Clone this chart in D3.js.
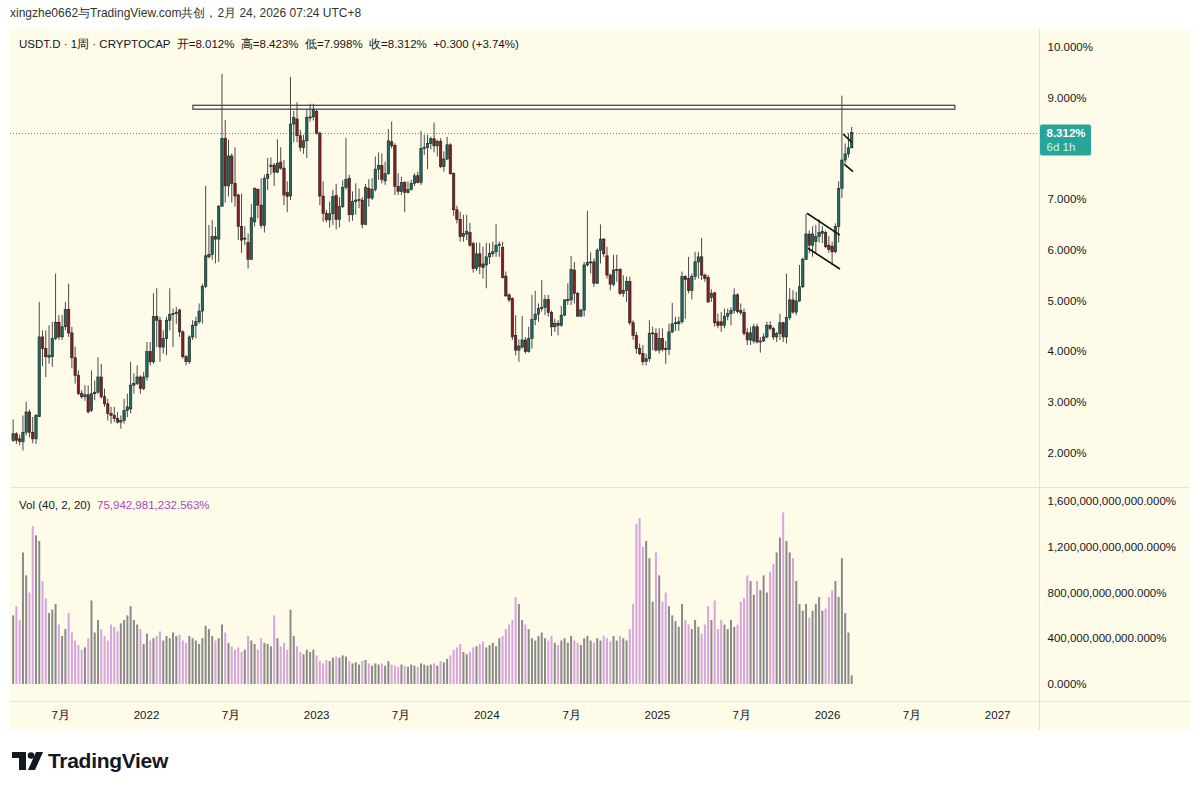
<!DOCTYPE html>
<html>
<head>
<meta charset="utf-8">
<script src="https://cdn.jsdelivr.net/npm/d3@7"></script>
<style>
  body { margin: 0; background: #fff; }
  text { font-family: "Liberation Sans", Arial, sans-serif; }
</style>
</head>
<body>
<svg id="chart" width="1200" height="791"></svg>
<script>
// weekly USDT.D candles, first bar week of 2021-03-22
const firstWeek = "2021-03-22";

const opens = [2.24,2.37,2.27,2.21,2.40,2.80,2.40,2.27,2.71,4.28,4.05,3.88,3.89,4.25,4.57,4.28,4.48,4.82,4.36,3.87,
  3.52,3.17,3.10,3.14,2.83,3.16,3.19,3.49,3.10,2.96,2.77,2.73,2.67,2.60,2.63,2.83,2.86,3.33,3.36,3.49,
  3.26,3.49,3.99,3.79,4.68,4.61,4.08,4.25,4.61,4.72,4.74,4.81,4.38,3.89,3.79,4.28,4.51,4.58,4.79,5.28,
  5.86,5.91,6.26,6.21,6.86,8.20,7.26,7.85,7.31,7.08,6.46,6.21,6.14,5.81,6.55,7.19,6.88,6.48,7.41,7.64,
  7.67,7.53,7.73,7.61,7.13,7.06,8.48,8.58,8.25,8.02,8.15,8.60,8.62,8.73,8.30,7.06,6.72,6.59,6.71,7.07,
  6.60,6.85,7.23,7.41,6.69,6.95,6.98,6.98,6.50,7.21,7.02,7.19,7.59,7.66,7.36,7.50,8.13,8.06,7.25,7.15,
  7.33,7.13,7.19,7.31,7.46,7.33,8.00,8.02,8.10,8.19,8.05,8.14,7.64,7.79,8.07,7.51,6.79,6.60,6.26,6.31,
  6.34,6.12,5.63,5.92,5.72,5.70,5.86,5.92,5.96,6.09,6.05,5.48,5.11,5.04,4.31,4.02,4.08,4.22,3.99,4.25,
  4.62,4.73,4.84,4.86,5.02,4.76,4.48,4.55,4.51,4.71,5.01,5.01,5.60,5.14,4.69,4.81,5.70,5.75,5.76,5.34,
  5.99,6.21,5.88,5.50,5.32,5.60,5.61,5.14,5.20,5.37,4.56,4.31,4.05,3.95,3.80,3.85,4.35,4.35,4.02,4.25,
  4.05,4.03,4.38,4.54,4.54,4.58,5.47,5.43,5.20,5.47,5.76,5.86,5.50,5.45,5.06,5.15,4.58,4.58,4.51,4.69,
  4.74,4.80,5.11,4.80,4.76,4.36,4.22,4.20,4.48,4.18,4.20,4.28,4.51,4.45,4.28,4.35,4.56,4.28,4.66,5.01,
  4.77,4.99,5.27,5.81,6.31,6.09,6.16,6.26,6.32,6.34,6.09,6.07,5.96,6.46,7.21,7.77,7.89,8.012];

const highs = [2.65,2.40,2.35,2.73,3.00,2.85,2.70,2.76,4.97,4.41,4.41,4.51,4.58,5.53,4.71,4.71,4.97,5.33,4.48,4.09,
  3.62,3.23,3.33,3.32,3.62,3.42,3.88,3.75,3.26,3.06,2.90,2.90,2.80,2.73,3.06,3.16,3.79,3.56,3.72,3.52,
  3.59,4.18,4.18,5.14,5.24,4.68,4.41,4.68,5.24,4.84,4.87,4.84,4.41,3.92,4.31,4.61,4.68,4.94,5.33,7.26,
  6.49,6.59,6.45,6.88,9.47,8.56,8.17,7.90,8.02,7.11,7.11,6.46,6.32,6.90,7.23,7.21,7.41,7.48,7.81,7.82,
  7.71,8.18,8.02,7.77,7.35,9.41,8.74,8.91,8.37,8.27,8.77,8.88,8.88,8.77,8.33,7.35,6.79,6.95,7.18,7.30,
  7.04,7.37,8.21,7.48,7.15,7.31,7.21,7.04,7.30,7.39,7.41,7.84,7.92,7.90,7.74,8.38,8.53,8.10,7.51,7.44,
  7.35,7.35,7.38,7.51,7.54,8.35,8.27,8.27,8.23,8.51,8.17,8.20,7.94,8.23,8.10,7.52,6.87,6.75,6.69,6.69,
  6.53,6.16,6.14,6.14,6.06,6.14,6.13,6.16,6.51,6.16,6.16,5.57,5.14,5.06,4.71,4.23,4.69,4.28,4.48,5.11,
  5.19,4.94,5.40,5.11,5.11,4.80,4.64,4.61,4.89,5.02,5.34,5.88,5.76,5.17,4.84,5.76,6.77,5.95,5.83,6.03,
  6.50,6.23,6.06,5.53,5.90,5.90,5.64,5.50,5.47,5.47,4.61,4.38,4.15,4.12,3.95,4.61,4.48,4.45,4.45,4.45,
  4.20,4.54,4.95,4.68,4.68,5.57,5.50,5.86,5.53,5.96,5.96,6.23,5.53,5.50,5.22,5.17,4.74,4.77,4.84,4.84,
  4.87,5.24,5.14,4.94,4.84,4.45,4.48,4.54,4.54,4.28,4.35,4.58,4.59,4.48,4.38,4.74,4.58,5.53,5.24,5.20,
  5.17,5.70,5.85,6.71,6.38,6.46,6.49,6.60,6.47,6.38,6.27,6.16,6.52,7.35,9.04,8.10,8.30,8.423];

const lows = [2.21,2.17,2.14,2.04,2.34,2.30,2.18,2.17,2.70,3.70,3.49,3.75,3.69,4.22,4.22,4.22,4.41,4.28,3.66,3.36,
  3.13,3.06,3.02,2.77,2.80,3.03,3.16,3.06,2.90,2.63,2.57,2.60,2.57,2.47,2.57,2.70,2.77,3.16,3.33,3.16,
  3.23,3.42,3.72,3.75,4.08,3.79,3.95,3.92,4.41,4.08,4.54,4.28,3.85,3.72,3.75,4.22,4.25,4.54,4.54,5.24,
  5.83,5.80,5.73,5.76,6.85,6.93,7.05,6.93,6.85,6.19,5.94,6.09,5.63,5.80,6.46,6.62,6.42,6.34,7.18,7.48,
  7.26,7.51,7.58,6.88,6.74,6.98,8.12,8.12,7.94,7.89,7.81,8.53,8.55,8.27,6.88,6.55,6.54,6.44,6.49,6.40,
  6.44,6.82,7.19,6.55,6.57,6.69,6.82,6.42,6.49,6.85,6.98,7.15,7.38,7.31,7.28,7.48,8.00,7.08,7.08,7.08,
  6.74,7.11,7.17,7.26,7.31,7.28,7.87,7.59,7.98,7.92,7.84,7.61,7.54,7.77,7.48,6.67,6.52,6.16,6.16,6.19,
  6.06,5.55,5.58,5.52,5.43,5.24,5.72,5.86,5.86,5.86,5.43,5.07,4.97,4.22,3.92,3.79,4.05,3.95,3.97,4.05,
  4.51,4.58,4.78,4.71,4.68,4.30,4.38,4.31,4.48,4.69,4.91,4.91,4.94,4.68,4.68,4.68,5.67,5.53,5.27,5.32,
  5.73,5.86,5.43,5.20,5.28,5.37,5.11,5.07,4.97,4.51,4.22,3.95,3.92,3.72,3.72,3.79,4.02,3.99,3.95,3.99,
  3.75,3.92,4.35,4.40,4.40,4.54,4.64,5.14,5.02,5.40,5.43,5.40,5.37,4.95,4.97,4.48,4.45,4.38,4.45,4.61,
  4.51,4.74,4.74,4.71,4.31,4.12,4.12,4.15,4.15,3.97,4.18,4.25,4.41,4.22,4.18,4.22,4.18,4.15,4.61,4.74,
  4.71,4.97,5.24,5.80,5.93,5.86,5.93,6.14,6.13,6.03,5.94,5.70,5.93,6.14,7.02,7.70,7.82,7.998];

const closes = [2.37,2.24,2.22,2.40,2.80,2.40,2.27,2.73,4.28,4.05,3.89,3.92,4.25,4.57,4.28,4.48,4.82,4.36,3.87,3.52,
  3.16,3.10,3.14,2.80,3.16,3.19,3.49,3.10,2.96,2.77,2.73,2.67,2.60,2.63,2.83,2.90,3.33,3.36,3.49,3.26,
  3.49,3.99,3.79,4.68,4.61,4.08,4.25,4.61,4.72,4.74,4.77,4.38,3.89,3.79,4.28,4.51,4.58,4.79,5.28,5.88,
  5.91,6.26,6.21,6.86,8.20,7.26,7.85,7.31,7.06,6.46,6.19,6.23,5.81,6.63,7.21,6.88,6.48,7.41,7.49,7.67,
  7.53,7.71,7.61,7.08,7.05,8.48,8.61,8.25,8.02,8.15,8.61,8.62,8.76,8.30,7.06,6.72,6.59,6.71,7.05,6.60,
  6.85,7.23,7.39,6.69,6.95,6.98,6.99,6.50,7.23,7.02,7.19,7.59,7.66,7.39,7.50,8.15,8.05,7.25,7.15,7.33,
  7.13,7.19,7.31,7.46,7.33,8.00,8.02,8.10,8.19,8.05,8.14,7.64,7.79,8.07,7.50,6.79,6.60,6.26,6.32,6.36,
  6.09,5.63,5.92,5.67,5.65,5.86,5.93,5.96,6.09,6.11,5.45,5.09,5.01,4.28,4.02,4.10,4.22,3.99,4.25,4.62,
  4.73,4.84,4.86,5.02,4.76,4.48,4.55,4.51,4.71,5.01,5.02,5.61,5.14,4.69,4.81,5.70,5.75,5.76,5.34,5.99,
  6.21,5.92,5.50,5.32,5.60,5.61,5.14,5.20,5.37,4.56,4.31,4.05,3.95,3.79,3.85,4.35,4.36,4.02,4.25,4.03,
  4.03,4.38,4.54,4.56,4.58,5.47,5.41,5.20,5.47,5.76,5.86,5.50,5.43,4.97,5.14,4.56,4.51,4.51,4.69,4.74,
  4.80,5.11,4.78,4.76,4.35,4.22,4.36,4.48,4.18,4.20,4.28,4.51,4.45,4.28,4.35,4.56,4.28,4.66,5.01,4.77,
  4.99,5.27,5.81,6.31,6.09,6.31,6.26,6.34,6.36,6.06,6.01,5.96,6.46,7.21,7.77,7.89,8.01,8.312];

// volume in billions
const volumes = [600,680,560,1150,950,800,1380,1300,1250,900,750,620,650,700,520,420,480,620,450,380,
  340,300,320,400,730,450,560,480,420,380,520,500,460,530,560,600,680,560,520,480,
  350,440,380,400,420,460,380,420,400,450,420,430,380,360,420,400,380,350,400,510,
  480,420,380,400,520,450,360,330,300,320,280,300,420,380,350,300,400,360,350,330,
  600,400,330,360,300,650,420,330,280,260,300,280,300,250,200,180,210,200,230,240,
  230,250,240,200,180,190,170,200,210,180,160,180,170,180,160,200,170,160,150,170,
  160,150,170,160,150,180,170,160,170,180,160,200,190,220,250,300,320,350,280,260,
  280,320,330,350,370,320,340,360,330,400,420,480,520,560,760,700,560,520,480,400,
  380,420,450,400,380,420,360,340,380,400,360,420,380,360,340,400,420,380,360,400,
  380,420,400,370,420,380,420,400,380,480,700,1400,1450,1200,1250,1100,720,1150,950,720,
  800,680,600,550,500,700,560,520,480,560,500,440,520,680,560,730,480,560,520,480,
  560,500,520,720,750,950,900,780,900,820,950,800,980,1050,1150,1280,1500,1250,1150,1100,
  900,700,640,700,580,640,700,760,640,660,760,820,900,760,1100,620,450,75.942981232563];

const priceTicks = [2, 3, 4, 5, 6, 7, 9, 10];
const volTicks = [0, 400, 800, 1200, 1600];
const timeTicks = ["2021-07-01","2022-01-01","2022-07-01","2023-01-01","2023-07-01","2024-01-01",
  "2024-07-01","2025-01-01","2025-07-01","2026-01-01","2026-07-01","2027-01-01"];
const timeLabels = ["7月","2022","7月","2023","7月","2024","7月","2025","7月","2026","7月","2027"];

// drawings: [week index, price]
const resistance = { from: 55.1, to: 288.6, top: 8.85, bottom: 8.77 };
const flagLines = [
  [[243.3, 6.72], [253.4, 6.29]],
  [[243.6, 6.03], [253.4, 5.62]],
  [[254.4, 8.28], [257.0, 8.12]],
  [[254.7, 7.69], [257.4, 7.54]]
];

const parseDay = d3.timeParse("%Y-%m-%d");
const start = parseDay(firstWeek);
const bars = closes.map((c, i) => ({
  date: d3.timeWeek.offset(start, i),
  o: opens[i], h: highs[i], l: lows[i], c: c, v: volumes[i]
}));
const weekDate = (w) => new Date(start.getTime() + w * 7 * 864e5);

const svg = d3.select("#chart");

const plot = { left: 10, right: 1039.5, top: 29, bottom: 730, paneSplit: 487.5, axisTop: 701.5, axisRight: 1190 };
const bg = "#fefbe8";
const textCol = "#131722";

svg.append("rect").attr("width", 1200).attr("height", 791).attr("fill", "#fff");
svg.append("rect")
  .attr("x", plot.left).attr("y", plot.top)
  .attr("width", plot.axisRight - plot.left).attr("height", plot.bottom - plot.top)
  .attr("fill", bg);

const x = d3.scaleTime()
  .domain([new Date(2022, 0, 1), new Date(2026, 0, 1)])
  .range([146, 827]);
const y = d3.scaleLinear().domain([2, 10]).range([452.5, 47]);
const yv = d3.scaleLinear().domain([0, 1600]).range([684, 501]);

// separators
const sepCol = "#e6e3d3";
svg.append("line").attr("x1", plot.right).attr("x2", plot.right)
  .attr("y1", plot.top).attr("y2", plot.bottom).attr("stroke", sepCol);
svg.append("line").attr("x1", plot.left).attr("x2", plot.axisRight)
  .attr("y1", plot.paneSplit).attr("y2", plot.paneSplit).attr("stroke", sepCol);
svg.append("line").attr("x1", plot.left).attr("x2", plot.axisRight)
  .attr("y1", plot.axisTop).attr("y2", plot.axisTop).attr("stroke", sepCol);

// price axis
const priceAxis = svg.append("g")
  .attr("transform", `translate(${plot.right},0)`)
  .call(d3.axisRight(y).tickValues(priceTicks).tickSize(0).tickPadding(8)
    .tickFormat((d) => d3.format(".3f")(d) + "%"));
priceAxis.select(".domain").remove();
priceAxis.selectAll("text").attr("fill", textCol).style("font-size", "11.5px");

// volume axis
const volAxis = svg.append("g")
  .attr("transform", `translate(${plot.right},0)`)
  .call(d3.axisRight(yv).tickValues(volTicks).tickSize(0).tickPadding(8)
    .tickFormat((d) => d3.format(",.3f")(d * 1e9) + "%"));
volAxis.select(".domain").remove();
volAxis.selectAll("text").attr("fill", textCol).style("font-size", "11.5px");

// time axis
const timeAxis = svg.append("g")
  .attr("transform", `translate(0,${plot.axisTop})`)
  .call(d3.axisBottom(x).tickValues(timeTicks.map(parseDay)).tickSize(0).tickPadding(9)
    .tickFormat((d, i) => timeLabels[i]));
timeAxis.select(".domain").remove();
timeAxis.selectAll("text").attr("fill", textCol).style("font-size", "11.5px");

// clip to the plot area
svg.append("clipPath").attr("id", "plotClip")
  .append("rect").attr("x", plot.left).attr("y", plot.top)
  .attr("width", plot.right - plot.left).attr("height", plot.axisTop - plot.top);
const g = svg.append("g").attr("clip-path", "url(#plotClip)");

// volume bars
const upVol = "#8a8a8a";
const downVol = "#d7a4e0";
g.append("g").selectAll("rect")
  .data(bars)
  .join("rect")
  .attr("x", (d) => x(d.date) - 1)
  .attr("width", 2)
  .attr("y", (d) => yv(d.v))
  .attr("height", (d) => yv(0) - yv(d.v))
  .attr("fill", (d) => (d.c >= d.o ? upVol : downVol));

// last price line
const last = bars[bars.length - 1];
g.append("line")
  .attr("x1", plot.left).attr("x2", plot.right)
  .attr("y1", Math.round(y(last.c)) + 0.5).attr("y2", Math.round(y(last.c)) + 0.5)
  .attr("stroke", "#26a69a").attr("stroke-dasharray", "1,2");

// resistance box
g.append("rect")
  .attr("x", x(weekDate(resistance.from)))
  .attr("y", y(resistance.top))
  .attr("width", x(weekDate(resistance.to)) - x(weekDate(resistance.from)))
  .attr("height", y(resistance.bottom) - y(resistance.top))
  .attr("fill", "#fff").attr("stroke", "#3a3a3a").attr("stroke-width", 1.2);
g.append("line")
  .attr("x1", x(weekDate(resistance.from))).attr("x2", x(weekDate(resistance.to)))
  .attr("y1", y(resistance.bottom) - 0.5).attr("y2", y(resistance.bottom) - 0.5)
  .attr("stroke", "#999").attr("stroke-width", 1);

// candles
const upCol = "#1d6b64";
const downCol = "#861f1f";
const candle = g.append("g").selectAll("g")
  .data(bars)
  .join("g");
candle.append("line")
  .attr("x1", (d) => x(d.date)).attr("x2", (d) => x(d.date))
  .attr("y1", (d) => y(d.h)).attr("y2", (d) => y(d.l))
  .attr("stroke", "#4a4a4a").attr("stroke-width", 1);
candle.append("rect")
  .attr("x", (d) => x(d.date) - 1.2)
  .attr("width", 2.4)
  .attr("y", (d) => y(Math.max(d.o, d.c)))
  .attr("height", (d) => Math.max(1, Math.abs(y(d.o) - y(d.c))))
  .attr("fill", (d) => (d.c >= d.o ? upCol : downCol))
  .attr("stroke", "#1e1e1e").attr("stroke-width", 0.6);

// flag lines
g.append("g").selectAll("line")
  .data(flagLines)
  .join("line")
  .attr("x1", (d) => x(weekDate(d[0][0]))).attr("y1", (d) => y(d[0][1]))
  .attr("x2", (d) => x(weekDate(d[1][0]))).attr("y2", (d) => y(d[1][1]))
  .attr("stroke", "#111").attr("stroke-width", 1.6);

// last price label
const ly = y(last.c);
svg.append("rect")
  .attr("x", plot.right + 0.5).attr("y", ly - 8)
  .attr("width", 51).attr("height", 31).attr("rx", 2)
  .attr("fill", "#26a69a");
svg.append("text").attr("x", plot.right + 7).attr("y", ly + 4)
  .attr("fill", "#fff").style("font-size", "11.5px").style("font-weight", "bold")
  .text(d3.format(".3f")(last.c) + "%");
svg.append("text").attr("x", plot.right + 7).attr("y", ly + 18)
  .attr("fill", "#d8f2ee").style("font-size", "11.5px")
  .text("6d 1h");

// header and legends
svg.append("text").attr("x", 10).attr("y", 17)
  .attr("fill", "#333").style("font-size", "12px")
  .text("xingzhe0662与TradingView.com共创，2月 24, 2026 07:24 UTC+8");

const legend = svg.append("text").attr("x", 19).attr("y", 48)
  .attr("fill", textCol).style("font-size", "11.5px");
legend.append("tspan").text("USDT.D · 1周 · CRYPTOCAP  ");
legend.append("tspan").text("开=" + d3.format(".3f")(last.o) + "%  ");
legend.append("tspan").text("高=" + d3.format(".3f")(last.h) + "%  ");
legend.append("tspan").text("低=" + d3.format(".3f")(last.l) + "%  ");
legend.append("tspan").text("收=" + d3.format(".3f")(last.c) + "%  ");
legend.append("tspan").text("+0.300 (+3.74%)");
legend.attr("xml:space", "preserve");

const volLegend = svg.append("text").attr("x", 19).attr("y", 509)
  .style("font-size", "11.5px").attr("xml:space", "preserve");
volLegend.append("tspan").attr("fill", textCol).text("Vol (40, 2, 20)  ");
volLegend.append("tspan").attr("fill", "#ab47bc")
  .text(d3.format(",.3f")(last.v * 1e9) + "%");

// TradingView logo
const logo = svg.append("g").attr("fill", "#131722");
logo.append("path").attr("d", "M12,752 H26 V770 H19 V758 H12 Z");
logo.append("circle").attr("cx", 31).attr("cy", 755.5).attr("r", 3.3);
logo.append("path").attr("d", "M36,752 H43 L35,770 H28 Z");
svg.append("text").attr("x", 48).attr("y", 768)
  .attr("fill", "#131722").style("font-size", "21px").style("font-weight", "bold")
  .style("letter-spacing", "-0.3px")
  .text("TradingView");
</script>
</body>
</html>
